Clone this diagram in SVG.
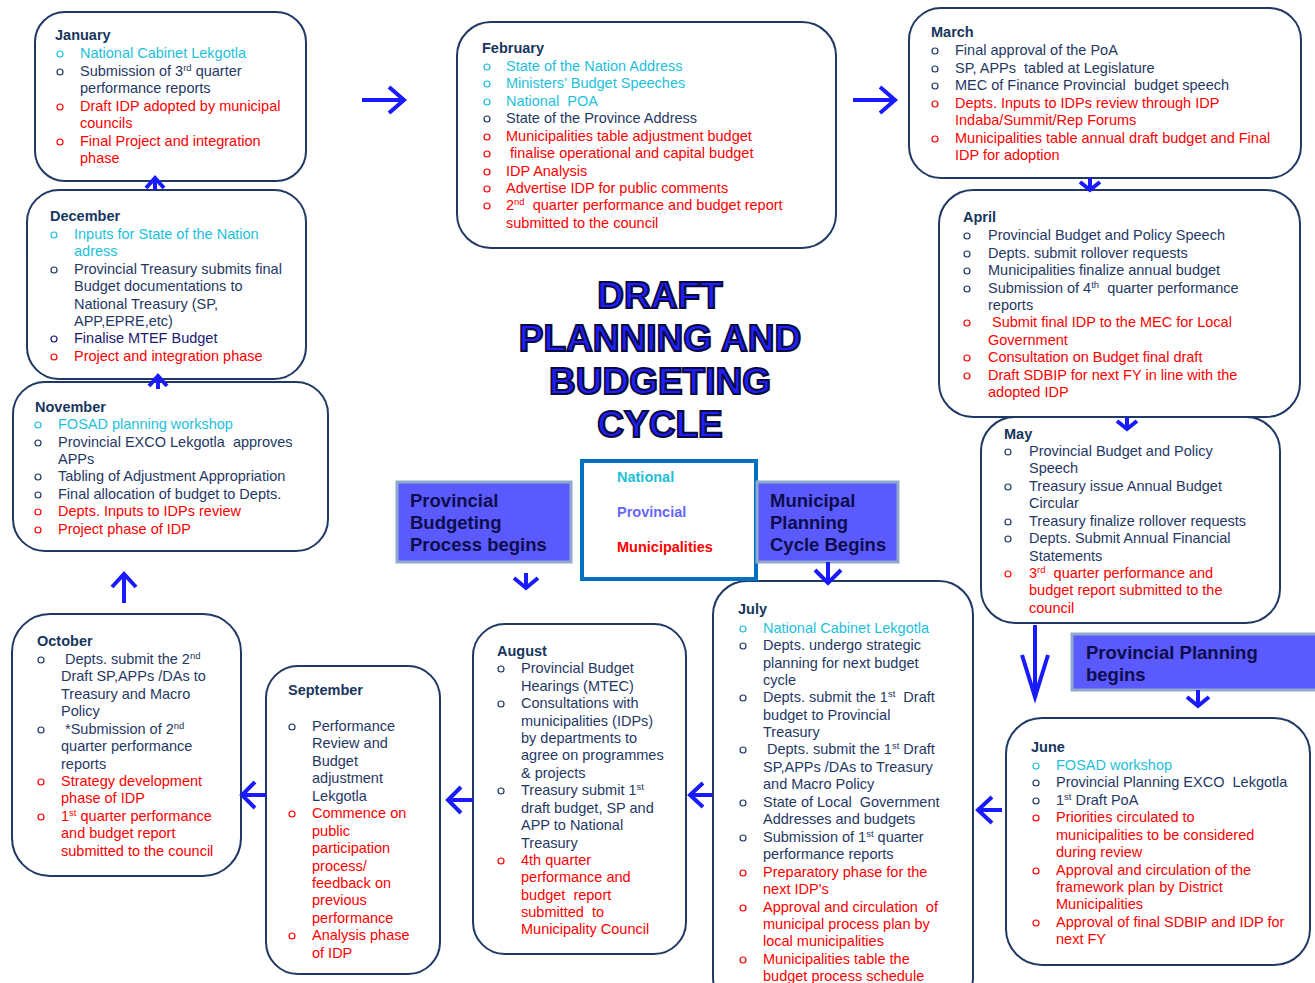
<svg xmlns="http://www.w3.org/2000/svg" width="1315" height="983" viewBox="0 0 1315 983" xml:space="preserve">
<style>
text{white-space:pre}
.bx{fill:#fff;stroke:#1f3864;stroke-width:2}
.t{font-family:"Liberation Sans",Arial,sans-serif;font-size:14.5px}
.h{font-weight:bold;fill:#17365d}
.n{fill:#1f3864}.c{fill:#1ebfdb}.r{fill:#ff0000}.d{fill:#1a1a70}
.sup{font-size:9.5px}
.bn,.bc,.br,.bd{fill:none;stroke-width:1.2}
.bn{stroke:#1f3864}.bc{stroke:#1ebfdb}.br{stroke:#ff0000}.bd{stroke:#1a1a70}
.lab{fill:#5a5aff;stroke:#8faacc;stroke-width:3}
.lt{font-family:"Liberation Sans",Arial,sans-serif;font-size:18.5px;font-weight:bold;fill:#0d0d4d}
.lg{font-family:"Liberation Sans",Arial,sans-serif;font-size:14.5px;font-weight:bold}
.title{font-family:"Liberation Sans",Arial,sans-serif;font-size:37px;font-weight:900;fill:#1f1fff;stroke:#0a0a40;stroke-width:2;text-anchor:middle}
.arr{fill:none;stroke:#1a1aff;stroke-width:4}
</style>

<g id="january">
<rect class="bx" x="35" y="12" width="271" height="169" rx="30"/>
<text class="t h" x="55" y="40">January</text>
<circle class="bc" cx="60" cy="54" r="3"/><text class="t c" x="80" y="58">National Cabinet Lekgotla</text>
<circle class="bn" cx="60" cy="72" r="3"/><text class="t n" x="80" y="76">Submission of 3<tspan class="sup" dy="-5">rd</tspan><tspan dy="5"> quarter</tspan></text>
<text class="t n" x="80" y="93">performance reports</text>
<circle class="br" cx="60" cy="107" r="3"/><text class="t r" x="80" y="111">Draft IDP adopted by municipal</text>
<text class="t r" x="80" y="128">councils</text>
<circle class="br" cx="60" cy="142" r="3"/><text class="t r" x="80" y="146">Final Project and integration</text>
<text class="t r" x="80" y="163">phase</text>
</g>

<g id="february">
<rect class="bx" x="457" y="22" width="379" height="226" rx="34"/>
<text class="t h" x="482" y="53">February</text>
<circle class="bc" cx="487" cy="67" r="3"/><text class="t c" x="506" y="71">State of the Nation Address</text>
<circle class="bc" cx="487" cy="84" r="3"/><text class="t c" x="506" y="88">Ministers’ Budget Speeches</text>
<circle class="bc" cx="487" cy="102" r="3"/><text class="t c" x="506" y="106">National  POA</text>
<circle class="bn" cx="487" cy="119" r="3"/><text class="t n" x="506" y="123">State of the Province Address</text>
<circle class="br" cx="487" cy="137" r="3"/><text class="t r" x="506" y="141">Municipalities table adjustment budget</text>
<circle class="br" cx="487" cy="154" r="3"/><text class="t r" x="510" y="158">finalise operational and capital budget</text>
<circle class="br" cx="487" cy="172" r="3"/><text class="t r" x="506" y="176">IDP Analysis</text>
<circle class="br" cx="487" cy="189" r="3"/><text class="t r" x="506" y="193">Advertise IDP for public comments</text>
<circle class="br" cx="487" cy="206" r="3"/><text class="t r" x="506" y="210">2<tspan class="sup" dy="-5">nd</tspan><tspan dy="5">  quarter performance and budget report</tspan></text>
<text class="t r" x="506" y="228">submitted to the council</text>
</g>

<g id="march">
<rect class="bx" x="909" y="8" width="392" height="170" rx="32"/>
<text class="t h" x="931" y="37">March</text>
<circle class="bn" cx="935" cy="51" r="3"/><text class="t n" x="955" y="55">Final approval of the PoA</text>
<circle class="bn" cx="935" cy="69" r="3"/><text class="t n" x="955" y="73">SP, APPs  tabled at Legislature</text>
<circle class="bn" cx="935" cy="86" r="3"/><text class="t n" x="955" y="90">MEC of Finance Provincial  budget speech</text>
<circle class="br" cx="935" cy="104" r="3"/><text class="t r" x="955" y="108">Depts. Inputs to IDPs review through IDP</text>
<text class="t r" x="955" y="125">Indaba/Summit/Rep Forums</text>
<circle class="br" cx="935" cy="139" r="3"/><text class="t r" x="955" y="143">Municipalities table annual draft budget and Final</text>
<text class="t r" x="955" y="160">IDP for adoption</text>
</g>

<g id="december">
<rect class="bx" x="27" y="190" width="279" height="189" rx="32"/>
<text class="t h" x="50" y="221">December</text>
<circle class="bc" cx="54" cy="235" r="3"/><text class="t c" x="74" y="239">Inputs for State of the Nation</text>
<text class="t c" x="74" y="256">adress</text>
<circle class="bn" cx="54" cy="270" r="3"/><text class="t n" x="74" y="274">Provincial Treasury submits final</text>
<text class="t n" x="74" y="291">Budget documentations to</text>
<text class="t n" x="74" y="309">National Treasury (SP,</text>
<text class="t n" x="74" y="326">APP,EPRE,etc)</text>
<circle class="bd" cx="54" cy="339" r="3"/><text class="t d" x="74" y="343">Finalise MTEF Budget</text>
<circle class="br" cx="54" cy="357" r="3"/><text class="t r" x="74" y="361">Project and integration phase</text>
</g>

<g id="april">
<rect class="bx" x="939" y="190" width="361" height="227" rx="34"/>
<text class="t h" x="963" y="222">April</text>
<circle class="bn" cx="967" cy="236" r="3"/><text class="t n" x="988" y="240">Provincial Budget and Policy Speech</text>
<circle class="bn" cx="967" cy="254" r="3"/><text class="t n" x="988" y="258">Depts. submit rollover requests</text>
<circle class="bn" cx="967" cy="271" r="3"/><text class="t n" x="988" y="275">Municipalities finalize annual budget</text>
<circle class="bn" cx="967" cy="289" r="3"/><text class="t n" x="988" y="293">Submission of 4<tspan class="sup" dy="-5">th</tspan><tspan dy="5">  quarter performance</tspan></text>
<text class="t n" x="988" y="310">reports</text>
<circle class="br" cx="967" cy="323" r="3"/><text class="t r" x="992" y="327">Submit final IDP to the MEC for Local</text>
<text class="t r" x="988" y="345">Government</text>
<circle class="br" cx="967" cy="358" r="3"/><text class="t r" x="988" y="362">Consultation on Budget final draft</text>
<circle class="br" cx="967" cy="376" r="3"/><text class="t r" x="988" y="380">Draft SDBIP for next FY in line with the</text>
<text class="t r" x="988" y="397">adopted IDP</text>
</g>

<g id="november">
<rect class="bx" x="13" y="382" width="315" height="169" rx="32"/>
<text class="t h" x="35" y="412">November</text>
<circle class="bc" cx="38" cy="425" r="3"/><text class="t c" x="58" y="429">FOSAD planning workshop</text>
<circle class="bn" cx="38" cy="443" r="3"/><text class="t n" x="58" y="447">Provincial EXCO Lekgotla  approves</text>
<text class="t n" x="58" y="464">APPs</text>
<circle class="bn" cx="38" cy="477" r="3"/><text class="t n" x="58" y="481">Tabling of Adjustment Appropriation</text>
<circle class="bn" cx="38" cy="495" r="3"/><text class="t n" x="58" y="499">Final allocation of budget to Depts.</text>
<circle class="br" cx="38" cy="512" r="3"/><text class="t r" x="58" y="516">Depts. Inputs to IDPs review</text>
<circle class="br" cx="38" cy="530" r="3"/><text class="t r" x="58" y="534">Project phase of IDP</text>
</g>

<g id="may">
<rect class="bx" x="981" y="417" width="299" height="206" rx="34"/>
<text class="t h" x="1004" y="439">May</text>
<circle class="bn" cx="1008" cy="452" r="3"/><text class="t n" x="1029" y="456">Provincial Budget and Policy</text>
<text class="t n" x="1029" y="473">Speech</text>
<circle class="bn" cx="1008" cy="487" r="3"/><text class="t n" x="1029" y="491">Treasury issue Annual Budget</text>
<text class="t n" x="1029" y="508">Circular</text>
<circle class="bn" cx="1008" cy="522" r="3"/><text class="t n" x="1029" y="526">Treasury finalize rollover requests</text>
<circle class="bn" cx="1008" cy="539" r="3"/><text class="t n" x="1029" y="543">Depts. Submit Annual Financial</text>
<text class="t n" x="1029" y="561">Statements</text>
<circle class="br" cx="1008" cy="574" r="3"/><text class="t r" x="1029" y="578">3<tspan class="sup" dy="-5">rd</tspan><tspan dy="5">  quarter performance and</tspan></text>
<text class="t r" x="1029" y="595">budget report submitted to the</text>
<text class="t r" x="1029" y="613">council</text>
</g>

<g id="october">
<rect class="bx" x="12" y="614" width="229" height="262" rx="38"/>
<text class="t h" x="37" y="646">October</text>
<circle class="bn" cx="41" cy="660" r="3"/><text class="t n" x="65" y="664">Depts. submit the 2<tspan class="sup" dy="-5">nd</tspan></text>
<text class="t n" x="61" y="681">Draft SP,APPs /DAs to</text>
<text class="t n" x="61" y="699">Treasury and Macro</text>
<text class="t n" x="61" y="716">Policy</text>
<circle class="bn" cx="41" cy="730" r="3"/><text class="t n" x="65" y="734">*Submission of 2<tspan class="sup" dy="-5">nd</tspan></text>
<text class="t n" x="61" y="751">quarter performance</text>
<text class="t n" x="61" y="769">reports</text>
<circle class="br" cx="41" cy="782" r="3"/><text class="t r" x="61" y="786">Strategy development</text>
<text class="t r" x="61" y="803">phase of IDP</text>
<circle class="br" cx="41" cy="817" r="3"/><text class="t r" x="61" y="821">1<tspan class="sup" dy="-5">st</tspan><tspan dy="5"> quarter performance</tspan></text>
<text class="t r" x="61" y="838">and budget report</text>
<text class="t r" x="61" y="856">submitted to the council</text>
</g>

<g id="september">
<rect class="bx" x="266" y="666" width="174" height="308" rx="32"/>
<text class="t h" x="288" y="695">September</text>
<circle class="bn" cx="292" cy="727" r="3"/><text class="t n" x="312" y="731">Performance</text>
<text class="t n" x="312" y="748">Review and</text>
<text class="t n" x="312" y="766">Budget</text>
<text class="t n" x="312" y="783">adjustment</text>
<text class="t n" x="312" y="801">Lekgotla</text>
<circle class="br" cx="292" cy="814" r="3"/><text class="t r" x="312" y="818">Commence on</text>
<text class="t r" x="312" y="836">public</text>
<text class="t r" x="312" y="853">participation</text>
<text class="t r" x="312" y="871">process/</text>
<text class="t r" x="312" y="888">feedback on</text>
<text class="t r" x="312" y="905">previous</text>
<text class="t r" x="312" y="923">performance</text>
<circle class="br" cx="292" cy="936" r="3"/><text class="t r" x="312" y="940">Analysis phase</text>
<text class="t r" x="312" y="958">of IDP</text>
</g>

<g id="august">
<rect class="bx" x="473" y="624" width="213" height="330" rx="32"/>
<text class="t h" x="497" y="656">August</text>
<circle class="bn" cx="501" cy="669" r="3"/><text class="t n" x="521" y="673">Provincial Budget</text>
<text class="t n" x="521" y="691">Hearings (MTEC)</text>
<circle class="bn" cx="501" cy="704" r="3"/><text class="t n" x="521" y="708">Consultations with</text>
<text class="t n" x="521" y="726">municipalities (IDPs)</text>
<text class="t n" x="521" y="743">by departments to</text>
<text class="t n" x="521" y="760">agree on programmes</text>
<text class="t n" x="521" y="778">&amp; projects</text>
<circle class="bn" cx="501" cy="791" r="3"/><text class="t n" x="521" y="795">Treasury submit 1<tspan class="sup" dy="-5">st</tspan></text>
<text class="t n" x="521" y="813">draft budget, SP and</text>
<text class="t n" x="521" y="830">APP to National</text>
<text class="t n" x="521" y="848">Treasury</text>
<circle class="br" cx="501" cy="861" r="3"/><text class="t r" x="521" y="865">4th quarter</text>
<text class="t r" x="521" y="882">performance and</text>
<text class="t r" x="521" y="900">budget  report</text>
<text class="t r" x="521" y="917">submitted  to</text>
<text class="t r" x="521" y="934">Municipality Council</text>
</g>

<g id="july">
<rect class="bx" x="713" y="581" width="260" height="430" rx="34"/>
<text class="t h" x="738" y="614">July</text>
<circle class="bc" cx="743" cy="629" r="3"/><text class="t c" x="763" y="633">National Cabinet Lekgotla</text>
<circle class="bn" cx="743" cy="646" r="3"/><text class="t n" x="763" y="650">Depts. undergo strategic</text>
<text class="t n" x="763" y="668">planning for next budget</text>
<text class="t n" x="763" y="685">cycle</text>
<circle class="bn" cx="743" cy="698" r="3"/><text class="t n" x="763" y="702">Depts. submit the 1<tspan class="sup" dy="-5">st</tspan><tspan dy="5">  Draft</tspan></text>
<text class="t n" x="763" y="720">budget to Provincial</text>
<text class="t n" x="763" y="737">Treasury</text>
<circle class="bn" cx="743" cy="750" r="3"/><text class="t n" x="767" y="754">Depts. submit the 1<tspan class="sup" dy="-5">st</tspan><tspan dy="5"> Draft</tspan></text>
<text class="t n" x="763" y="772">SP,APPs /DAs to Treasury</text>
<text class="t n" x="763" y="789">and Macro Policy</text>
<circle class="bn" cx="743" cy="803" r="3"/><text class="t n" x="763" y="807">State of Local  Government</text>
<text class="t n" x="763" y="824">Addresses and budgets</text>
<circle class="bn" cx="743" cy="838" r="3"/><text class="t n" x="763" y="842">Submission of 1<tspan class="sup" dy="-5">st</tspan><tspan dy="5"> quarter</tspan></text>
<text class="t n" x="763" y="859">performance reports</text>
<circle class="br" cx="743" cy="873" r="3"/><text class="t r" x="763" y="877">Preparatory phase for the</text>
<text class="t r" x="763" y="894">next IDP’s</text>
<circle class="br" cx="743" cy="908" r="3"/><text class="t r" x="763" y="912">Approval and circulation  of</text>
<text class="t r" x="763" y="929">municipal process plan by</text>
<text class="t r" x="763" y="946">local municipalities</text>
<circle class="br" cx="743" cy="960" r="3"/><text class="t r" x="763" y="964">Municipalities table the</text>
<text class="t r" x="763" y="981">budget process schedule</text>
</g>

<g id="june">
<rect class="bx" x="1006" y="718" width="304" height="247" rx="36"/>
<text class="t h" x="1031" y="752">June</text>
<circle class="bc" cx="1036" cy="766" r="3"/><text class="t c" x="1056" y="770">FOSAD workshop</text>
<circle class="bn" cx="1036" cy="783" r="3"/><text class="t n" x="1056" y="787">Provincial Planning EXCO  Lekgotla</text>
<circle class="bn" cx="1036" cy="801" r="3"/><text class="t n" x="1056" y="805">1<tspan class="sup" dy="-5">st</tspan><tspan dy="5"> Draft PoA</tspan></text>
<circle class="br" cx="1036" cy="818" r="3"/><text class="t r" x="1056" y="822">Priorities circulated to</text>
<text class="t r" x="1056" y="840">municipalities to be considered</text>
<text class="t r" x="1056" y="857">during review</text>
<circle class="br" cx="1036" cy="871" r="3"/><text class="t r" x="1056" y="875">Approval and circulation of the</text>
<text class="t r" x="1056" y="892">framework plan by District</text>
<text class="t r" x="1056" y="909">Municipalities</text>
<circle class="br" cx="1036" cy="923" r="3"/><text class="t r" x="1056" y="927">Approval of final SDBIP and IDP for</text>
<text class="t r" x="1056" y="944">next FY</text>
</g>

<g id="title">
<text class="title" x="660" y="308">DRAFT</text>
<text class="title" x="660" y="351">PLANNING AND</text>
<text class="title" x="660" y="394">BUDGETING</text>
<text class="title" x="660" y="437">CYCLE</text>
</g>

<g id="legend">
<rect x="582" y="461" width="174" height="118" fill="#fff" stroke="#0070c0" stroke-width="4"/>
<text class="lg" x="617" y="482" fill="#1ebfdb">National</text>
<text class="lg" x="617" y="517" fill="#6666ff">Provincial</text>
<text class="lg" x="617" y="552" fill="#ff0000">Municipalities</text>
</g>

<g id="provincial-budgeting">
<rect class="lab" x="397" y="482" width="174" height="80"/>
<text class="lt" x="410" y="507">Provincial</text>
<text class="lt" x="410" y="529">Budgeting</text>
<text class="lt" x="410" y="551">Process begins</text>
</g>

<g id="municipal-planning">
<rect class="lab" x="757" y="482" width="141" height="80"/>
<text class="lt" x="770" y="507">Municipal</text>
<text class="lt" x="770" y="529">Planning</text>
<text class="lt" x="770" y="551">Cycle Begins</text>
</g>

<g id="provincial-planning">
<rect class="lab" x="1072" y="634" width="250" height="56"/>
<text class="lt" x="1086" y="659">Provincial Planning</text>
<text class="lt" x="1086" y="681">begins</text>
</g>

<g id="connectors">
<path class="arr" d="M362,100 H403 M389,87 L404,100 L389,113"/>
<path class="arr" d="M853,100 H893 M880,87 L895,100 L880,113"/>
<path class="arr" d="M1090,178 V189 M1080,182 L1090,190 L1100,182"/>
<path class="arr" d="M1127,417 V428 M1117,421 L1127,429 L1137,421"/>
<path class="arr" d="M1035,625 V694 M1022,655 L1035,697 L1048,655"/>
<path class="arr" d="M1198,690 V704 M1187,697 L1198,706 L1209,697"/>
<path class="arr" d="M1002,810 H980 M992,797 L978,810 L992,823"/>
<path class="arr" d="M712,795 H692 M703,783 L690,795 L703,807"/>
<path class="arr" d="M473,800 H450 M461,787 L448,800 L461,813"/>
<path class="arr" d="M266,795 H244 M255,782 L242,795 L255,808"/>
<path class="arr" d="M124,603 V576 M112,587 L124,574 L136,587"/>
<path class="arr" d="M158,389 V378 M149,386 L158,376 L167,386"/>
<path class="arr" d="M155,190 V180 M146,188 L155,178 L164,188"/>
<path class="arr" d="M526,573 V586 M514,578 L526,588 L538,578"/>
<path class="arr" d="M828,562 V581 M815,570 L828,583 L841,570"/>
</g>
</svg>
